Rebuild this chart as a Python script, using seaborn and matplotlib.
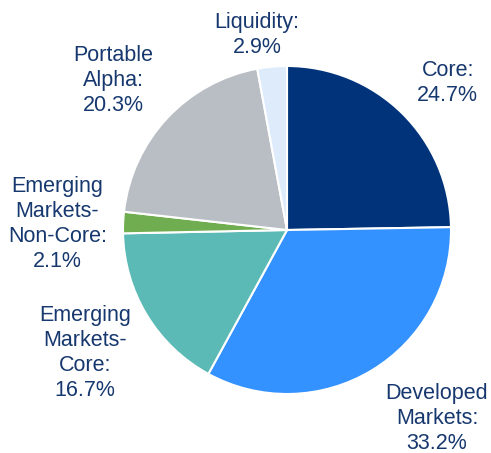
import matplotlib
matplotlib.use("Agg")
import matplotlib.pyplot as plt
import seaborn as sns
import numpy as np

# allocation data
categories = ["Core", "Developed\nMarkets", "Emerging\nMarkets-\nCore",
              "Emerging\nMarkets-\nNon-Core", "Portable\nAlpha", "Liquidity"]
values = [24.7, 33.2, 16.7, 2.1, 20.3, 2.9]
colors = ["#00337A", "#3392FF", "#5BBAB5", "#70AD50", "#B8BEC3", "#DDEBFB"]

# label placement: distance from centre (in radii) and angle tweak (deg)
label_dist = [1.33, 1.47, 1.44, 1.40, 1.40, 1.20]
label_shift = [-3.0, 7.3, 0.0, 1.0, 2.2, 3.5]

sns.set_theme(style="white")
plt.rcParams["font.family"] = ["Liberation Sans", "DejaVu Sans"]

fig = plt.figure(figsize=(4.91, 4.53), dpi=100)
ax = fig.add_axes([0, 0, 1, 1])

wedges, _ = ax.pie(values, colors=colors, startangle=90, counterclock=False,
                   radius=1.0, wedgeprops=dict(edgecolor="white", linewidth=1.5))

for w, cat, v, d, s in zip(wedges, categories, values, label_dist, label_shift):
    ang = np.deg2rad((w.theta1 + w.theta2) / 2 + s)
    ax.text(d * np.cos(ang), d * np.sin(ang), f"{cat}:\n{v}%",
            ha="center", va="center", fontsize=15.5, color="#17386E",
            linespacing=1.25)

# pixel geometry: centre at (287, 230), radius 164 px
r_px = 164
ax.set_xlim(-287 / r_px, (491 - 287) / r_px)
ax.set_ylim(-(453 - 230) / r_px, 230 / r_px)
ax.axis("off")

fig.savefig("out.png", dpi=100)
